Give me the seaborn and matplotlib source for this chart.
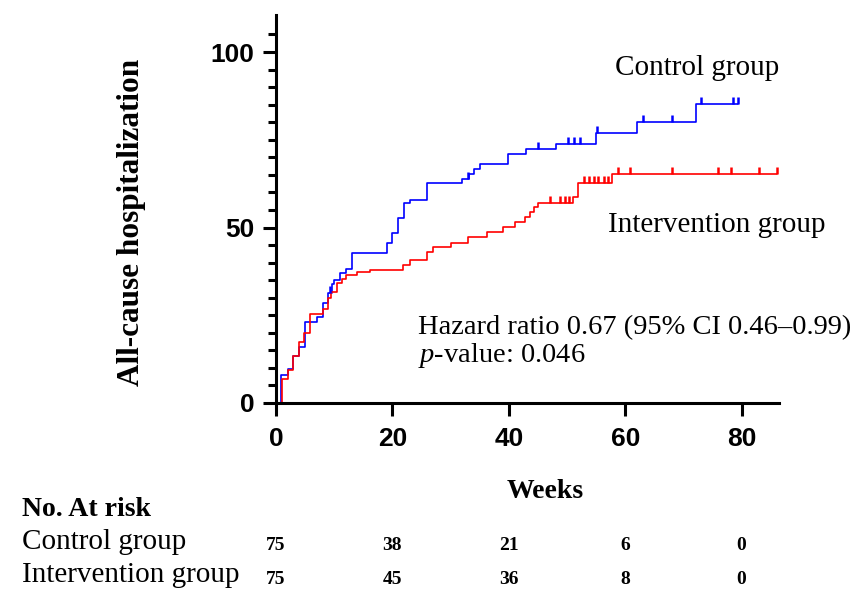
import numpy as np
import pandas as pd
import matplotlib
matplotlib.use("Agg")
import matplotlib.pyplot as plt
from matplotlib.path import Path
import matplotlib.transforms as mtransforms
import seaborn as sns

# ---------------- data ----------------
ctrl_weeks = [0, 0.9, 2.0, 3.0, 4.0, 4.9, 7.0, 8.0, 9.0, 9.6, 10.0, 11.0, 12.1, 13.0,
              19.0, 20.0, 21.0, 22.0, 23.0, 25.9, 32.0, 33.2, 34.0, 35.0, 39.9, 43.0,
              48.1, 55.0, 62.1, 72.1, 79.4]
ctrl_values = [0, 8.0, 9.6, 13.3, 16.0, 23.2, 24.5, 28.6, 31.2, 33.9, 35.0, 37.0, 38.3, 42.7,
               45.5, 48.3, 52.6, 56.9, 57.9, 62.6, 63.8, 65.3, 66.7, 68.0, 71.0, 72.4,
               73.9, 76.8, 80.0, 85.3, 85.3]
ctrl_censored = [9.3, 33.0, 45.0, 50.2, 51.2, 52.2, 55.1, 63.1, 68.1, 73.1, 78.5, 79.3]

int_weeks = [0, 1.1, 2.0, 3.0, 4.0, 4.8, 5.9, 8.0, 9.0, 9.5, 10.4, 11.3, 12.1, 14.0, 16.2,
             21.9, 23.0, 25.9, 27.0, 30.1, 33.0, 36.2, 39.0, 41.0, 42.8, 43.7, 44.4, 45.0,
             51.1, 51.9, 57.8, 86.0]
int_values = [0, 6.7, 9.3, 13.3, 17.3, 20.0, 25.3, 26.9, 29.8, 31.7, 34.1, 35.2, 36.5, 37.2, 38.0,
              39.3, 40.7, 43.1, 44.5, 45.7, 47.3, 48.8, 50.2, 51.7, 53.1, 54.5, 55.7, 57.0,
              58.8, 62.7, 65.3, 65.3]
int_censored = [47.1, 48.8, 49.7, 50.4, 52.9, 53.7, 54.6, 55.4, 56.3, 57.1, 58.8, 60.8,
                68.1, 76.0, 78.2, 83.0, 86.0]

risk_weeks = [0, 20, 40, 60, 80]
risk_control = [75, 38, 21, 6, 0]
risk_intervention = [75, 45, 36, 8, 0]

group_names = ["Control group", "Intervention group"]
colors = {"Control group": "#0000FF", "Intervention group": "#FF0000"}

# ---------------- style ----------------
sns.set_style("ticks")
plt.rcParams["font.family"] = ["Liberation Serif", "DejaVu Serif"]
plt.rcParams["text.color"] = "black"
plt.rcParams["axes.labelcolor"] = "black"
plt.rcParams["xtick.color"] = "black"
plt.rcParams["ytick.color"] = "black"
plt.rcParams["mathtext.fontset"] = "custom"
plt.rcParams["mathtext.rm"] = "Liberation Serif"
plt.rcParams["mathtext.it"] = "Liberation Serif:italic"

W, H = 850, 592
fig = plt.figure(figsize=(W / 100, H / 100), dpi=100)
x0, x1, ytop, ybot = 276, 779, 15, 403
ax = fig.add_axes([x0 / W, (H - ybot) / H, (x1 - x0) / W, (ybot - ytop) / H])

df = pd.concat([
    pd.DataFrame({"week": ctrl_weeks, "value": ctrl_values, "group": group_names[0]}),
    pd.DataFrame({"week": int_weeks, "value": int_values, "group": group_names[1]}),
], ignore_index=True)

sns.lineplot(data=df, x="week", y="value", hue="group", palette=colors,
             drawstyle="steps-post", estimator=None, sort=False, legend=False,
             linewidth=1.2, ax=ax)

tick_marker = Path([(0, 0), (0, 1)])


def step_at(weeks, values, t):
    idx = np.searchsorted(np.asarray(weeks), t, side="right") - 1
    return np.asarray(values)[idx]


for name, wk, vals, cens in [(group_names[0], ctrl_weeks, ctrl_values, ctrl_censored),
                             (group_names[1], int_weeks, int_values, int_censored)]:
    cy = step_at(wk, vals, np.asarray(cens))
    ax.plot(cens, cy, linestyle="none", marker=tick_marker, markersize=10,
            markeredgewidth=1.8, color=colors[name], clip_on=False)

ax.set_xlim(0, (x1 - x0) / 5.82)
ax.set_ylim(0, (ybot - ytop) / 3.51)
ax.set_xticks([0, 20, 40, 60, 80])
ax.set_yticks([0, 50, 100])
ax.set_yticks(np.arange(0, 110, 5), minor=True)
ax.set_xlabel("")
ax.set_ylabel("")
for s in ["top", "right"]:
    ax.spines[s].set_visible(False)
for s in ["left", "bottom"]:
    ax.spines[s].set_linewidth(2.2)
    ax.spines[s].set_color("black")
ax.tick_params(axis="both", which="major", length=9.5, width=2.2, color="black",
               labelcolor="black")
ax.tick_params(axis="y", which="minor", length=5.5, width=2.2, color="black")
ax.tick_params(axis="y", which="major", pad=6)
ax.tick_params(axis="x", which="major", pad=8)
for lab in ax.get_xticklabels() + ax.get_yticklabels():
    lab.set_family(["Liberation Sans", "DejaVu Sans"])
    lab.set_fontweight("bold")
    lab.set_fontsize(19)


def ftext(px, py, s, **kw):
    return fig.text(px / W, 1 - py / H, s, color="black", **kw)


# axis labels
ftext(132, 222, "All-cause hospitalization", rotation=90, ha="center", va="center",
      fontsize=22.5, fontweight="bold")
ftext(545, 492, "Weeks", ha="center", va="center", fontsize=20, fontweight="bold")

# annotations
ftext(615, 68, "Control group", ha="left", va="center", fontsize=21)
ftext(608, 225, "Intervention group", ha="left", va="center", fontsize=21)
ftext(418, 328, "Hazard ratio 0.67 (95% CI 0.46\u20130.99)", ha="left", va="center", fontsize=20.5)
ftext(418, 356, r"$p$-value: 0.046", ha="left", va="center", fontsize=20.5)

# at-risk table
ftext(22, 510, "No. At risk", ha="left", va="center", fontsize=20, fontweight="bold")
ftext(22, 542, "Control group", ha="left", va="center", fontsize=21)
ftext(22, 575, "Intervention group", ha="left", va="center", fontsize=21)

trans = mtransforms.blended_transform_factory(ax.transData, fig.transFigure)
for wk, c, i in zip(risk_weeks, risk_control, risk_intervention):
    ax.text(wk, 1 - 546 / H, str(c), transform=trans, ha="center", va="center",
            fontsize=14, fontweight="bold", color="black",
            family=["Liberation Serif", "DejaVu Serif"])
    ax.text(wk, 1 - 579 / H, str(i), transform=trans, ha="center", va="center",
            fontsize=14, fontweight="bold", color="black",
            family=["Liberation Serif", "DejaVu Serif"])

fig.savefig("out.png", dpi=100)
